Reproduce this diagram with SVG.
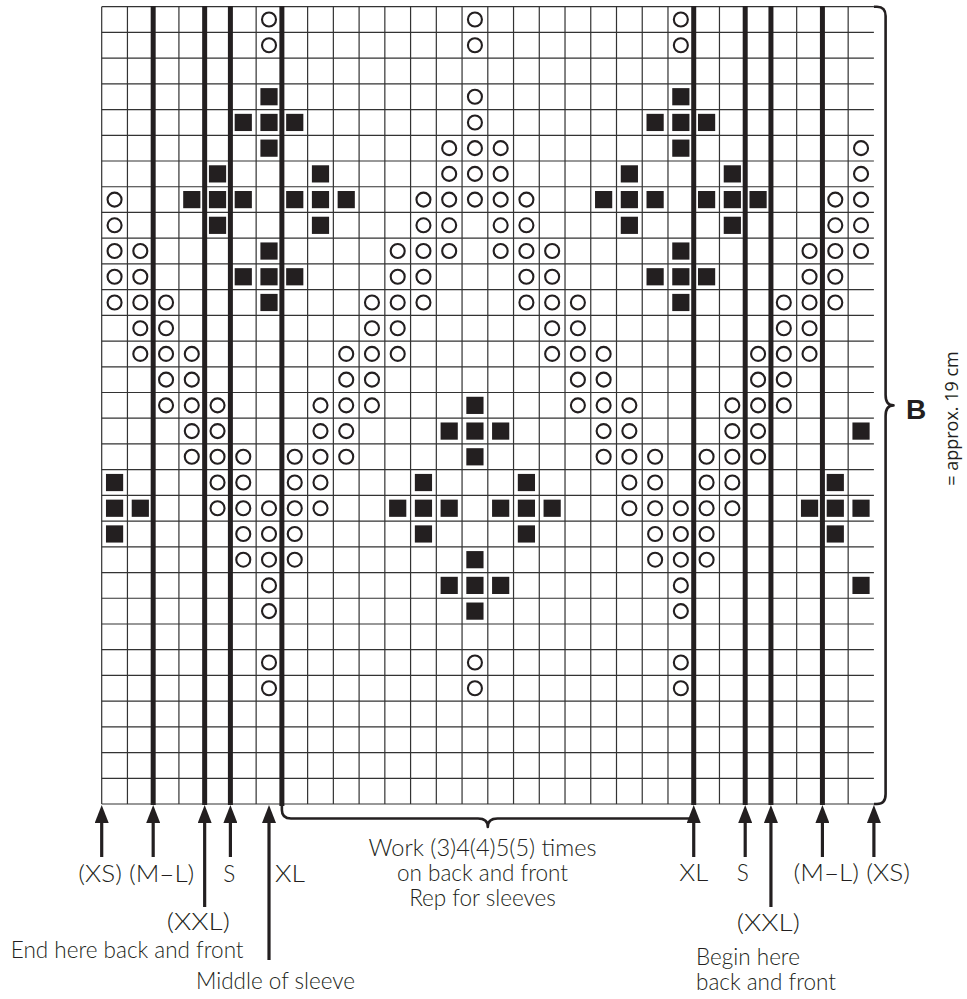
<svg xmlns="http://www.w3.org/2000/svg" xmlns:xlink="http://www.w3.org/1999/xlink" width="967" height="999" viewBox="0 0 967 999">
<style>
.grid{fill:none;stroke:#333;stroke-width:1.2}
.thick{stroke:#231f20;stroke-width:5}
.brace{fill:none;stroke:#231f20;stroke-width:2.6;stroke-linejoin:round}
.arrow{stroke:#231f20;stroke-width:3.2;marker-end:url(#ah)}
.lbl{font-family:Lato,'Open Sans','Liberation Sans',sans-serif;font-weight:300;font-size:22.5px;fill:#231f20;text-anchor:middle}
.st{text-anchor:start}
</style>
<defs>
<circle id="o" r="7" fill="#fff" stroke="#231f20" stroke-width="2.1"/>
<rect id="s" x="-8.6" y="-8.6" width="17.2" height="17.2" fill="#231f20"/>
<marker id="ah" markerUnits="userSpaceOnUse" viewBox="0 0 18 14" refX="11" refY="7" markerWidth="18" markerHeight="14" orient="auto">
<path d="M0 0L18 7L0 14z" fill="#231f20"/>
</marker>
</defs>
<rect width="967" height="999" fill="#fff"/>
<g id="grid">
<path class="grid" d="M101.7 6.7H873.9M101.7 32.42H873.9M101.7 58.14H873.9M101.7 83.86H873.9M101.7 109.58H873.9M101.7 135.3H873.9M101.7 161.02H873.9M101.7 186.74H873.9M101.7 212.46H873.9M101.7 238.18H873.9M101.7 263.9H873.9M101.7 289.62H873.9M101.7 315.34H873.9M101.7 341.06H873.9M101.7 366.78H873.9M101.7 392.5H873.9M101.7 418.22H873.9M101.7 443.94H873.9M101.7 469.66H873.9M101.7 495.38H873.9M101.7 521.1H873.9M101.7 546.82H873.9M101.7 572.54H873.9M101.7 598.26H873.9M101.7 623.98H873.9M101.7 649.7H873.9M101.7 675.42H873.9M101.7 701.14H873.9M101.7 726.86H873.9M101.7 752.58H873.9M101.7 778.3H873.9M101.7 804.02H873.9"/>
<path class="grid" d="M101.7 6.7V804M127.44 6.7V804M153.18 6.7V804M178.92 6.7V804M204.66 6.7V804M230.4 6.7V804M256.14 6.7V804M281.88 6.7V804M307.62 6.7V804M333.36 6.7V804M359.1 6.7V804M384.84 6.7V804M410.58 6.7V804M436.32 6.7V804M462.06 6.7V804M487.8 6.7V804M513.54 6.7V804M539.28 6.7V804M565.02 6.7V804M590.76 6.7V804M616.5 6.7V804M642.24 6.7V804M667.98 6.7V804M693.72 6.7V804M719.46 6.7V804M745.2 6.7V804M770.94 6.7V804M796.68 6.7V804M822.42 6.7V804M848.16 6.7V804"/>
</g>
<g id="size-lines">
<line class="thick" x1="153.18" y1="6" x2="153.18" y2="805"/>
<line class="thick" x1="204.66" y1="6" x2="204.66" y2="805"/>
<line class="thick" x1="230.4" y1="6" x2="230.4" y2="805"/>
<line class="thick" x1="281.88" y1="6" x2="281.88" y2="806"/>
<line class="thick" x1="693.72" y1="6" x2="693.72" y2="805"/>
<line class="thick" x1="745.2" y1="6" x2="745.2" y2="805"/>
<line class="thick" x1="770.94" y1="6" x2="770.94" y2="805"/>
<line class="thick" x1="822.42" y1="6" x2="822.42" y2="805"/>
</g>
<g id="circles">
<use href="#o" x="269.01" y="19.56"/><use href="#o" x="474.93" y="19.56"/><use href="#o" x="680.85" y="19.56"/>
<use href="#o" x="269.01" y="45.28"/><use href="#o" x="474.93" y="45.28"/><use href="#o" x="680.85" y="45.28"/>
<use href="#o" x="474.93" y="96.72"/>
<use href="#o" x="474.93" y="122.44"/>
<use href="#o" x="449.19" y="148.16"/><use href="#o" x="474.93" y="148.16"/><use href="#o" x="500.67" y="148.16"/><use href="#o" x="861.03" y="148.16"/>
<use href="#o" x="449.19" y="173.88"/><use href="#o" x="474.93" y="173.88"/><use href="#o" x="500.67" y="173.88"/><use href="#o" x="861.03" y="173.88"/>
<use href="#o" x="114.57" y="199.6"/><use href="#o" x="423.45" y="199.6"/><use href="#o" x="449.19" y="199.6"/><use href="#o" x="474.93" y="199.6"/><use href="#o" x="500.67" y="199.6"/><use href="#o" x="526.41" y="199.6"/><use href="#o" x="835.29" y="199.6"/><use href="#o" x="861.03" y="199.6"/>
<use href="#o" x="114.57" y="225.32"/><use href="#o" x="423.45" y="225.32"/><use href="#o" x="449.19" y="225.32"/><use href="#o" x="500.67" y="225.32"/><use href="#o" x="526.41" y="225.32"/><use href="#o" x="835.29" y="225.32"/><use href="#o" x="861.03" y="225.32"/>
<use href="#o" x="114.57" y="251.04"/><use href="#o" x="140.31" y="251.04"/><use href="#o" x="397.71" y="251.04"/><use href="#o" x="423.45" y="251.04"/><use href="#o" x="449.19" y="251.04"/><use href="#o" x="500.67" y="251.04"/><use href="#o" x="526.41" y="251.04"/><use href="#o" x="552.15" y="251.04"/><use href="#o" x="809.55" y="251.04"/><use href="#o" x="835.29" y="251.04"/><use href="#o" x="861.03" y="251.04"/>
<use href="#o" x="114.57" y="276.76"/><use href="#o" x="140.31" y="276.76"/><use href="#o" x="397.71" y="276.76"/><use href="#o" x="423.45" y="276.76"/><use href="#o" x="526.41" y="276.76"/><use href="#o" x="552.15" y="276.76"/><use href="#o" x="809.55" y="276.76"/><use href="#o" x="835.29" y="276.76"/>
<use href="#o" x="114.57" y="302.48"/><use href="#o" x="140.31" y="302.48"/><use href="#o" x="166.05" y="302.48"/><use href="#o" x="371.97" y="302.48"/><use href="#o" x="397.71" y="302.48"/><use href="#o" x="423.45" y="302.48"/><use href="#o" x="526.41" y="302.48"/><use href="#o" x="552.15" y="302.48"/><use href="#o" x="577.89" y="302.48"/><use href="#o" x="783.81" y="302.48"/><use href="#o" x="809.55" y="302.48"/><use href="#o" x="835.29" y="302.48"/>
<use href="#o" x="140.31" y="328.2"/><use href="#o" x="166.05" y="328.2"/><use href="#o" x="371.97" y="328.2"/><use href="#o" x="397.71" y="328.2"/><use href="#o" x="552.15" y="328.2"/><use href="#o" x="577.89" y="328.2"/><use href="#o" x="783.81" y="328.2"/><use href="#o" x="809.55" y="328.2"/>
<use href="#o" x="140.31" y="353.92"/><use href="#o" x="166.05" y="353.92"/><use href="#o" x="191.79" y="353.92"/><use href="#o" x="346.23" y="353.92"/><use href="#o" x="371.97" y="353.92"/><use href="#o" x="397.71" y="353.92"/><use href="#o" x="552.15" y="353.92"/><use href="#o" x="577.89" y="353.92"/><use href="#o" x="603.63" y="353.92"/><use href="#o" x="758.07" y="353.92"/><use href="#o" x="783.81" y="353.92"/><use href="#o" x="809.55" y="353.92"/>
<use href="#o" x="166.05" y="379.64"/><use href="#o" x="191.79" y="379.64"/><use href="#o" x="346.23" y="379.64"/><use href="#o" x="371.97" y="379.64"/><use href="#o" x="577.89" y="379.64"/><use href="#o" x="603.63" y="379.64"/><use href="#o" x="758.07" y="379.64"/><use href="#o" x="783.81" y="379.64"/>
<use href="#o" x="166.05" y="405.36"/><use href="#o" x="191.79" y="405.36"/><use href="#o" x="217.53" y="405.36"/><use href="#o" x="320.49" y="405.36"/><use href="#o" x="346.23" y="405.36"/><use href="#o" x="371.97" y="405.36"/><use href="#o" x="577.89" y="405.36"/><use href="#o" x="603.63" y="405.36"/><use href="#o" x="629.37" y="405.36"/><use href="#o" x="732.33" y="405.36"/><use href="#o" x="758.07" y="405.36"/><use href="#o" x="783.81" y="405.36"/>
<use href="#o" x="191.79" y="431.08"/><use href="#o" x="217.53" y="431.08"/><use href="#o" x="320.49" y="431.08"/><use href="#o" x="346.23" y="431.08"/><use href="#o" x="603.63" y="431.08"/><use href="#o" x="629.37" y="431.08"/><use href="#o" x="732.33" y="431.08"/><use href="#o" x="758.07" y="431.08"/>
<use href="#o" x="191.79" y="456.8"/><use href="#o" x="217.53" y="456.8"/><use href="#o" x="243.27" y="456.8"/><use href="#o" x="294.75" y="456.8"/><use href="#o" x="320.49" y="456.8"/><use href="#o" x="346.23" y="456.8"/><use href="#o" x="603.63" y="456.8"/><use href="#o" x="629.37" y="456.8"/><use href="#o" x="655.11" y="456.8"/><use href="#o" x="706.59" y="456.8"/><use href="#o" x="732.33" y="456.8"/><use href="#o" x="758.07" y="456.8"/>
<use href="#o" x="217.53" y="482.52"/><use href="#o" x="243.27" y="482.52"/><use href="#o" x="294.75" y="482.52"/><use href="#o" x="320.49" y="482.52"/><use href="#o" x="629.37" y="482.52"/><use href="#o" x="655.11" y="482.52"/><use href="#o" x="706.59" y="482.52"/><use href="#o" x="732.33" y="482.52"/>
<use href="#o" x="217.53" y="508.24"/><use href="#o" x="243.27" y="508.24"/><use href="#o" x="269.01" y="508.24"/><use href="#o" x="294.75" y="508.24"/><use href="#o" x="320.49" y="508.24"/><use href="#o" x="629.37" y="508.24"/><use href="#o" x="655.11" y="508.24"/><use href="#o" x="680.85" y="508.24"/><use href="#o" x="706.59" y="508.24"/><use href="#o" x="732.33" y="508.24"/>
<use href="#o" x="243.27" y="533.96"/><use href="#o" x="269.01" y="533.96"/><use href="#o" x="294.75" y="533.96"/><use href="#o" x="655.11" y="533.96"/><use href="#o" x="680.85" y="533.96"/><use href="#o" x="706.59" y="533.96"/>
<use href="#o" x="243.27" y="559.68"/><use href="#o" x="269.01" y="559.68"/><use href="#o" x="294.75" y="559.68"/><use href="#o" x="655.11" y="559.68"/><use href="#o" x="680.85" y="559.68"/><use href="#o" x="706.59" y="559.68"/>
<use href="#o" x="269.01" y="585.4"/><use href="#o" x="680.85" y="585.4"/>
<use href="#o" x="269.01" y="611.12"/><use href="#o" x="680.85" y="611.12"/>
<use href="#o" x="269.01" y="662.56"/><use href="#o" x="474.93" y="662.56"/><use href="#o" x="680.85" y="662.56"/>
<use href="#o" x="269.01" y="688.28"/><use href="#o" x="474.93" y="688.28"/><use href="#o" x="680.85" y="688.28"/>
</g>
<g id="squares">
<use href="#s" x="269.01" y="96.72"/><use href="#s" x="680.85" y="96.72"/>
<use href="#s" x="243.27" y="122.44"/><use href="#s" x="269.01" y="122.44"/><use href="#s" x="294.75" y="122.44"/><use href="#s" x="655.11" y="122.44"/><use href="#s" x="680.85" y="122.44"/><use href="#s" x="706.59" y="122.44"/>
<use href="#s" x="269.01" y="148.16"/><use href="#s" x="680.85" y="148.16"/>
<use href="#s" x="217.53" y="173.88"/><use href="#s" x="320.49" y="173.88"/><use href="#s" x="629.37" y="173.88"/><use href="#s" x="732.33" y="173.88"/>
<use href="#s" x="191.79" y="199.6"/><use href="#s" x="217.53" y="199.6"/><use href="#s" x="243.27" y="199.6"/><use href="#s" x="294.75" y="199.6"/><use href="#s" x="320.49" y="199.6"/><use href="#s" x="346.23" y="199.6"/><use href="#s" x="603.63" y="199.6"/><use href="#s" x="629.37" y="199.6"/><use href="#s" x="655.11" y="199.6"/><use href="#s" x="706.59" y="199.6"/><use href="#s" x="732.33" y="199.6"/><use href="#s" x="758.07" y="199.6"/>
<use href="#s" x="217.53" y="225.32"/><use href="#s" x="320.49" y="225.32"/><use href="#s" x="629.37" y="225.32"/><use href="#s" x="732.33" y="225.32"/>
<use href="#s" x="269.01" y="251.04"/><use href="#s" x="680.85" y="251.04"/>
<use href="#s" x="243.27" y="276.76"/><use href="#s" x="269.01" y="276.76"/><use href="#s" x="294.75" y="276.76"/><use href="#s" x="655.11" y="276.76"/><use href="#s" x="680.85" y="276.76"/><use href="#s" x="706.59" y="276.76"/>
<use href="#s" x="269.01" y="302.48"/><use href="#s" x="680.85" y="302.48"/>
<use href="#s" x="474.93" y="405.36"/>
<use href="#s" x="449.19" y="431.08"/><use href="#s" x="474.93" y="431.08"/><use href="#s" x="500.67" y="431.08"/><use href="#s" x="861.03" y="431.08"/>
<use href="#s" x="474.93" y="456.8"/>
<use href="#s" x="114.57" y="482.52"/><use href="#s" x="423.45" y="482.52"/><use href="#s" x="526.41" y="482.52"/><use href="#s" x="835.29" y="482.52"/>
<use href="#s" x="114.57" y="508.24"/><use href="#s" x="140.31" y="508.24"/><use href="#s" x="397.71" y="508.24"/><use href="#s" x="423.45" y="508.24"/><use href="#s" x="449.19" y="508.24"/><use href="#s" x="500.67" y="508.24"/><use href="#s" x="526.41" y="508.24"/><use href="#s" x="552.15" y="508.24"/><use href="#s" x="809.55" y="508.24"/><use href="#s" x="835.29" y="508.24"/><use href="#s" x="861.03" y="508.24"/>
<use href="#s" x="114.57" y="533.96"/><use href="#s" x="423.45" y="533.96"/><use href="#s" x="526.41" y="533.96"/><use href="#s" x="835.29" y="533.96"/>
<use href="#s" x="474.93" y="559.68"/>
<use href="#s" x="449.19" y="585.4"/><use href="#s" x="474.93" y="585.4"/><use href="#s" x="500.67" y="585.4"/><use href="#s" x="861.03" y="585.4"/>
<use href="#s" x="474.93" y="611.12"/>
</g>
<g id="connectors">
<line class="arrow" x1="101.7" y1="857" x2="101.7" y2="812"/>
<line class="arrow" x1="153.18" y1="857" x2="153.18" y2="812"/>
<line class="arrow" x1="204.66" y1="907" x2="204.66" y2="812"/>
<line class="arrow" x1="230.4" y1="857" x2="230.4" y2="812"/>
<line class="arrow" x1="269.01" y1="960" x2="269.01" y2="812"/>
<line class="arrow" x1="693.72" y1="857" x2="693.72" y2="812"/>
<line class="arrow" x1="745.2" y1="857" x2="745.2" y2="812"/>
<line class="arrow" x1="770.94" y1="907" x2="770.94" y2="812"/>
<line class="arrow" x1="822.42" y1="857" x2="822.42" y2="812"/>
<line class="arrow" x1="873.9" y1="857" x2="873.9" y2="812"/>
<path id="brace-repeat" class="brace" d="M281.88 804V810Q281.88 818.5 291 818.5H478Q487.8 818.5 487.8 827Q487.8 818.5 497.6 818.5H693.72"/>
<path id="brace-b" class="brace" d="M873.9 6.7H877Q885.6 6.7 885.6 16V395Q885.6 405.4 893.5 405.4Q885.6 405.4 885.6 416V794Q885.6 804 877 804H873.9"/>
</g>
<g id="labels">
<text class="lbl" x="136.3" y="882" textLength="116" lengthAdjust="spacingAndGlyphs">(XS) (M–L)</text>
<text class="lbl" x="229.3" y="882">S</text>
<text class="lbl" x="290" y="882" textLength="30" lengthAdjust="spacingAndGlyphs">XL</text>
<text class="lbl" x="198.3" y="930" textLength="63" lengthAdjust="spacingAndGlyphs">(XXL)</text>
<text class="lbl" x="127.2" y="957.5">End here back and front</text>
<text class="lbl" x="275.5" y="989">Middle of sleeve</text>
<text class="lbl" x="482.5" y="855.5" textLength="228" lengthAdjust="spacingAndGlyphs">Work (3)4(4)5(5) times</text>
<text class="lbl" x="482.5" y="880.5">on back and front</text>
<text class="lbl" x="482.5" y="905.5">Rep for sleeves</text>
<text class="lbl" x="693.8" y="881" textLength="29" lengthAdjust="spacingAndGlyphs">XL</text>
<text class="lbl" x="742.8" y="881">S</text>
<text class="lbl" x="851.7" y="881" textLength="116.5" lengthAdjust="spacingAndGlyphs">(M–L) (XS)</text>
<text class="lbl" x="768.3" y="931" textLength="63" lengthAdjust="spacingAndGlyphs">(XXL)</text>
<text class="lbl st" x="696" y="965">Begin here</text>
<text class="lbl st" x="696" y="990">back and front</text>
<text x="906" y="418.5" font-family="'Liberation Sans',Arial,sans-serif" font-weight="bold" font-size="28" fill="#231f20">B</text>
<text transform="translate(958 418.5) rotate(-90)" text-anchor="middle" font-family="'Open Sans','Liberation Sans',sans-serif" font-size="18" fill="#231f20">= approx. 19 cm</text>
</g>
</svg>
